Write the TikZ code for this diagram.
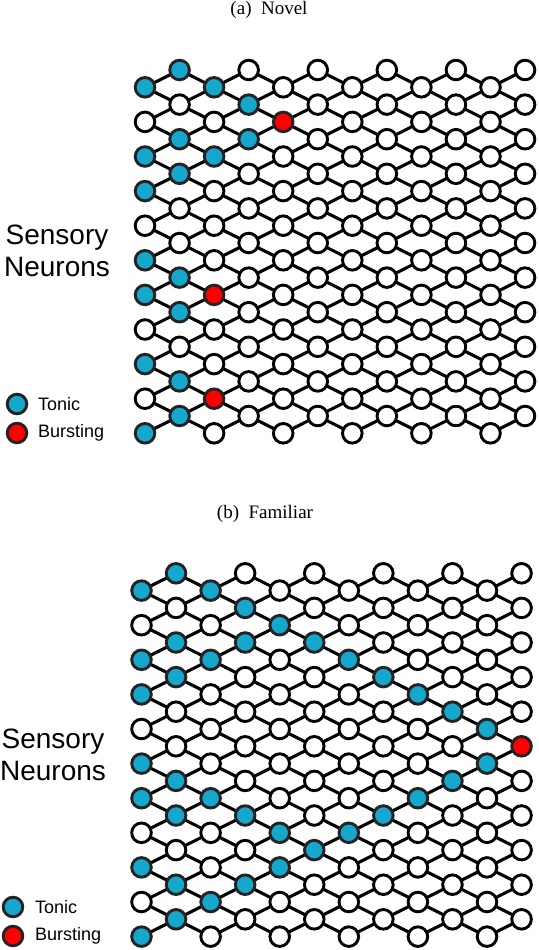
\documentclass[tikz,border=0pt]{standalone}
\usepackage{fontspec}
\setmainfont{Liberation Serif}
\setsansfont{Liberation Sans}
\pgfdeclarelayer{bg}
\pgfsetlayers{bg,main}
\definecolor{tonicblue}{RGB}{22,167,204}
\definecolor{burstred}{RGB}{255,0,0}
\definecolor{rimgray}{RGB}{38,34,35}
\tikzset{
  quiet/.style={circle,draw=black,fill=white,line width=2.9pt,minimum size=19.6pt,inner sep=0pt},
  tonic/.style={quiet,draw=rimgray,fill=tonicblue},
  burst/.style={quiet,draw=rimgray,fill=burstred},
  wire/.style={line width=3.1pt,black},
  caption/.style={font=\fontsize{19}{22}\selectfont},
  sidelabel/.style={font=\sffamily\fontsize{28}{32}\selectfont,align=center},
  legendtext/.style={font=\sffamily\fontsize{18}{21}\selectfont,anchor=west,inner xsep=0pt},
}
\newcommand\setstate[3]{\foreach \cc/\kk in {#2}{\expandafter\xdef\csname nst-#1-\cc-\kk\endcsname{#3}}}
\newcommand\drawpanel[3]{%
  \foreach \c in {0,...,11}{%
    \foreach \k in {0,...,10}{%
      \pgfmathsetmacro\px{#2+34.55*\c}%
      \ifodd\c\relax \pgfmathsetmacro\py{#3+34.6*\k}\else \pgfmathsetmacro\py{#3+17.3+34.6*\k}\fi
      \ifcsname nst-#1-\c-\k\endcsname \edef\st{\csname nst-#1-\c-\k\endcsname}\else \def\st{quiet}\fi
      \edef\donode{\noexpand\node[\st] (#1-\c-\k) at (\px,\py) {};}\donode
    }}%
  \begin{pgfonlayer}{bg}
  \foreach \c in {0,...,10}{%
    \pgfmathtruncatemacro\n{\c+1}%
    \foreach \k in {0,...,10}{%
      \pgfmathtruncatemacro\km{\k-1}%
      \pgfmathtruncatemacro\kp{\k+1}%
      \ifodd\c\relax
        \ifnum\k>0 \draw[wire] (#1-\c-\k.center) -- (#1-\n-\km.center);\fi
        \draw[wire] (#1-\c-\k.center) -- (#1-\n-\k.center);
      \else
        \draw[wire] (#1-\c-\k.center) -- (#1-\n-\k.center);
        \ifnum\k<10 \draw[wire] (#1-\c-\k.center) -- (#1-\n-\kp.center);\fi
      \fi
    }}%
  \end{pgfonlayer}}
\setstate{a}{0/0,0/2,0/3,0/5,0/6,0/8,0/10,1/0,1/2,1/3,1/6,1/7,1/9,1/10,2/0,2/2,3/1,3/2}{tonic}
\setstate{a}{2/6,2/9,4/1}{burst}
\setstate{b}{0/0,0/2,0/3,0/5,0/6,0/8,0/10,1/0,1/2,1/3,1/6,1/7,1/9,1/10,2/0,2/2,2/6,2/9,3/1,3/2,3/7,3/9,4/1,4/7,4/8,5/2,5/8,6/2,6/7,7/3,7/7,8/3,8/6,9/4,9/6,10/4,10/5}{tonic}
\setstate{b}{11/5}{burst}
\begin{document}
\begin{tikzpicture}[x=1pt,y=-1pt]
\useasboundingbox (0,0) rectangle (538,950);
% panel (a)
\node[caption] (capa) at (269,10) {(a)\enspace Novel};
\drawpanel{a}{145}{70}
\node[sidelabel] (sa) at (57,251) {Sensory\\Neurons};
\node[tonic] (la-t) at (17,404) {};
\node[burst] (la-b) at (17,433) {};
\node[legendtext] (la-tt) at (38,404) {Tonic};
\node[legendtext] (la-bt) at (38,433) {Bursting};
% panel (b)
\node[caption] (capb) at (265,514) {(b)\enspace Familiar};
\drawpanel{b}{141.5}{573.3}
\node[sidelabel] (sb) at (53,755) {Sensory\\Neurons};
\node[tonic] (lb-t) at (13,907) {};
\node[burst] (lb-b) at (13,936) {};
\node[legendtext] (lb-tt) at (35,907) {Tonic};
\node[legendtext] (lb-bt) at (35,936) {Bursting};
\end{tikzpicture}
\end{document}
